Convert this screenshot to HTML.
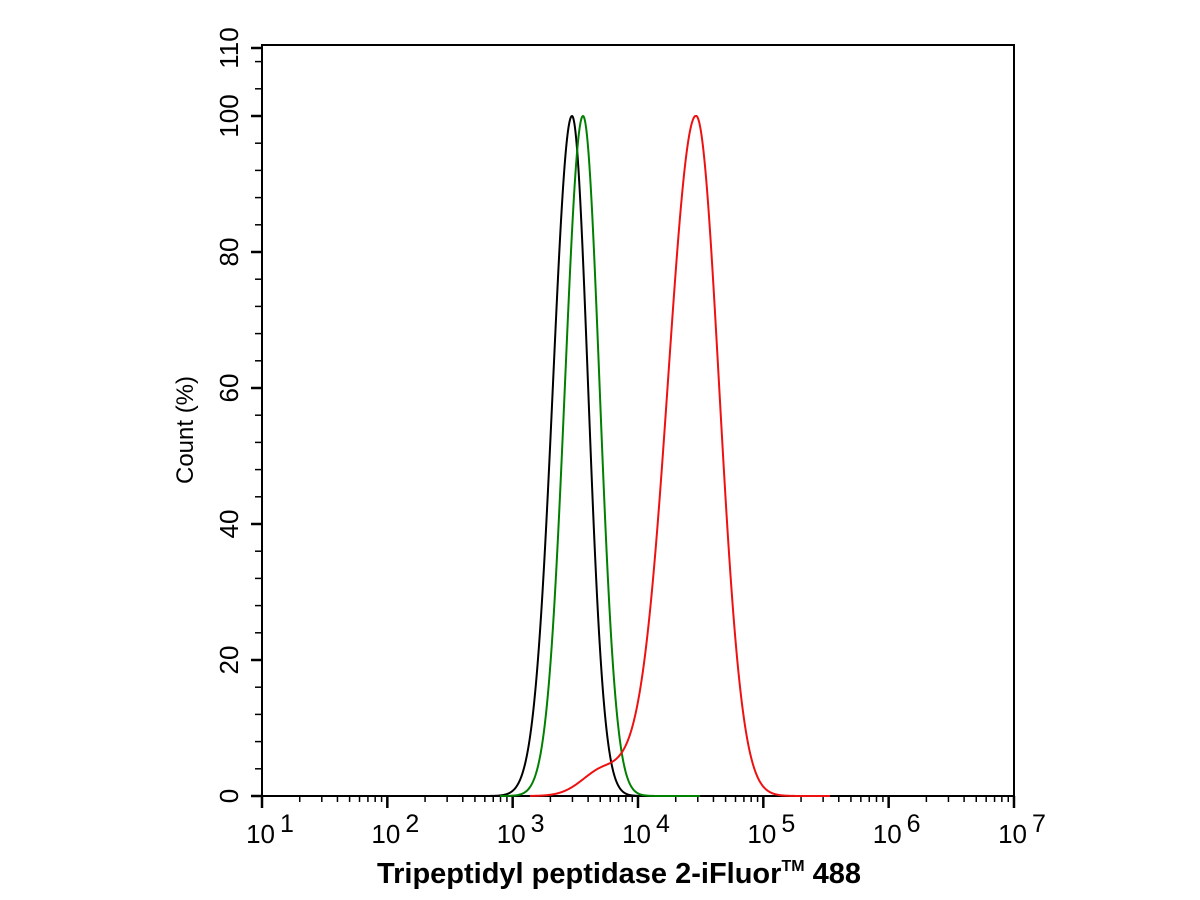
<!DOCTYPE html>
<html><head><meta charset="utf-8"><style>body{margin:0;background:#fff}svg{display:block}</style></head>
<body>
<svg id="s" width="1200" height="900" xmlns="http://www.w3.org/2000/svg" font-family="Liberation Sans, Arial, sans-serif">
<rect x="262" y="45" width="752" height="751" fill="none" stroke="#000" stroke-width="2"/>
<g id="ticks" stroke="#000"></g>
<g id="labels" font-size="26" fill="#000"></g>
<text transform="translate(193,430) rotate(-90)" text-anchor="middle" font-size="24">Count  (%)</text>
<text x="619" y="883" text-anchor="middle" font-size="29" font-weight="bold">Tripeptidyl peptidase 2-iFluor<tspan font-size="16" dy="-12">TM</tspan><tspan dy="12"> 488</tspan></text>
<path id="black" fill="none" stroke="#000" stroke-width="2"/>
<path id="green" fill="none" stroke="#008000" stroke-width="2"/>
<path id="red" fill="none" stroke="#ee1111" stroke-width="2"/>
</svg>
<script>
var ns="http://www.w3.org/2000/svg",T=document.getElementById('ticks'),L=document.getElementById('labels');
function ln(x1,y1,x2,y2,w){var l=document.createElementNS(ns,'line');l.setAttribute('x1',x1);l.setAttribute('y1',y1);l.setAttribute('x2',x2);l.setAttribute('y2',y2);l.setAttribute('stroke-width',w);T.appendChild(l);}
function tx(x,y,s,a,r){var t=document.createElementNS(ns,'text');t.setAttribute('x',x);t.setAttribute('y',y);t.setAttribute('text-anchor',a||'middle');if(r)t.setAttribute('transform',r);t.innerHTML=s;L.appendChild(t);}
var X0=262,D=125.33,Y0=796,K=6.8;
for(var d=0;d<=6;d++){var x=X0+d*D;ln(x,796,x,808,2.5);
 tx(x+8,843,'10<tspan font-size="25" dx="5" dy="-11">'+(d+1)+'</tspan>');
 if(d<6)for(var m=2;m<=9;m++){var xm=x+Math.log10(m)*D;ln(xm,796,xm,802,1.5);}}
for(var v=0;v<=108;v+=4){var y=Y0-v*K;ln(255,y,262,y,1.5);}
[0,20,40,60,80,100,110].forEach(function(v){var y=Y0-v*K;ln(251,y,262,y,2.5);tx(238,y,String(v),'middle','rotate(-90 238 '+y+')');});
function g(x,c,sl,sr){var s=x<c?sl:sr;return Math.exp(-(x-c)*(x-c)/(2*s*s));}
function path(id,f,x1,x2){var p='';for(var x=x1;x<=x2;x+=0.5){var v=f(x);p+=(p?'L':'M')+x+','+(Y0-v*K).toFixed(2);}document.getElementById(id).setAttribute('d',p);}
path('black',function(x){return 100*g(x,572,19,16);},470,680);
path('green',function(x){return 100*g(x,583,18,16.5);},500,700);
path('red',function(x){return Math.min(100,100*g(x,696,28,23)+4*g(x,605,22,30));},530,830);
</script>
</body></html>
